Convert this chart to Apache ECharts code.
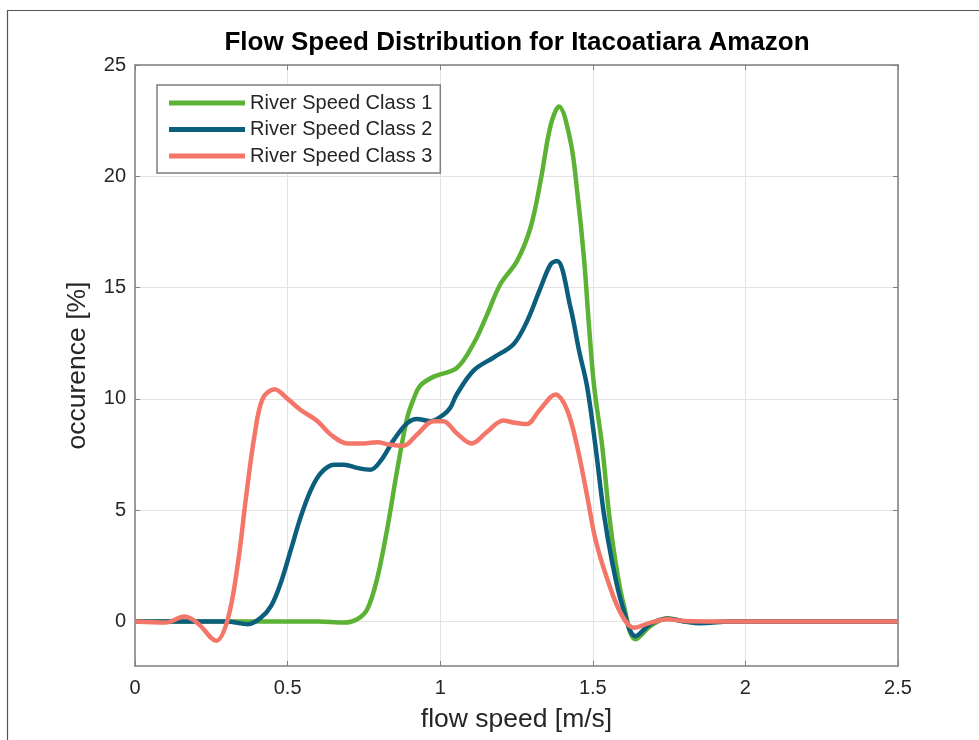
<!DOCTYPE html>
<html>
<head>
<meta charset="utf-8">
<script src="https://cdn.jsdelivr.net/npm/echarts@6/dist/echarts.min.js"></script>
<style>
html,body{margin:0;padding:0;background:#fff;}
#chart{width:979px;height:740px;}
</style>
</head>
<body>
<div id="chart"></div>
<script>
// ---- data ----
const seriesNames = ['River Speed Class 1', 'River Speed Class 2', 'River Speed Class 3'];

const class1X = [0, 0.3, 0.6, 0.685, 0.728, 0.761, 0.793, 0.826, 0.859, 0.891, 0.913, 0.935, 0.979, 1.055, 1.11, 1.154, 1.197, 1.252, 1.296, 1.329, 1.362, 1.389, 1.427, 1.449, 1.471, 1.487, 1.504, 1.531, 1.553, 1.575, 1.602, 1.64, 1.69, 1.745, 1.8, 1.85, 1.95, 2.5];
const class1Y = [0, 0, 0, -0.05, 0.1, 0.55, 1.9, 4.13, 6.8, 9.1, 10.0, 10.6, 11.0, 11.4, 12.5, 13.8, 15.15, 16.2, 17.7, 19.8, 22.3, 23.13, 21.57, 19.3, 16.34, 13.38, 10.6, 7.85, 4.87, 2.63, 0.7, -0.8, -0.2, 0.15, 0.0, -0.05, 0, 0];

const class2X = [0, 0.3, 0.37, 0.413, 0.446, 0.478, 0.511, 0.543, 0.576, 0.609, 0.652, 0.685, 0.728, 0.772, 0.804, 0.848, 0.891, 0.924, 0.967, 1.01, 1.033, 1.054, 1.11, 1.176, 1.241, 1.285, 1.329, 1.362, 1.383, 1.427, 1.455, 1.482, 1.509, 1.536, 1.564, 1.597, 1.64, 1.69, 1.745, 1.8, 1.85, 1.95, 2.5];
const class2Y = [0, 0, -0.12, 0.18, 0.7, 1.75, 3.24, 4.7, 5.9, 6.67, 7.04, 7.04, 6.9, 6.82, 7.2, 8.16, 8.9, 9.1, 9.0, 9.28, 9.6, 10.2, 11.28, 11.87, 12.47, 13.5, 15.0, 16.05, 16.2, 14.1, 12.17, 10.5, 7.85, 4.87, 2.63, 0.7, -0.66, -0.1, 0.12, 0.0, -0.08, 0, 0];

const class3X = [0, 0.1, 0.163, 0.207, 0.266, 0.304, 0.337, 0.364, 0.391, 0.418, 0.457, 0.5, 0.543, 0.598, 0.641, 0.696, 0.75, 0.793, 0.837, 0.88, 0.924, 0.978, 1.01, 1.054, 1.103, 1.152, 1.207, 1.239, 1.283, 1.326, 1.378, 1.416, 1.449, 1.482, 1.509, 1.548, 1.591, 1.635, 1.69, 1.745, 1.8, 1.9, 2.5];
const class3Y = [0, -0.05, 0.22, -0.1, -0.87, 0.1, 2.6, 5.6, 8.3, 10.0, 10.43, 10.0, 9.5, 9.0, 8.4, 8.0, 8.0, 8.05, 7.94, 7.9, 8.4, 9.0, 9.0, 8.46, 8.0, 8.5, 9.03, 8.94, 8.87, 9.5, 10.2, 9.5, 7.85, 5.6, 3.67, 1.88, 0.39, -0.28, -0.05, 0.1, 0.02, 0, 0];

const xTicks = [0, 0.5, 1, 1.5, 2, 2.5];
const yTicks = [0, 5, 10, 15, 20, 25];

const colors = ['#5BB234', '#0C5E7D', '#F47669'];

function pairs(xs, ys) { return xs.map((x, i) => [x, ys[i]]); }
const allX = [class1X, class2X, class3X];
const allY = [class1Y, class2Y, class3Y];

const chart = echarts.init(document.getElementById('chart'), null, {renderer: 'canvas'});
const axisColor = '#7f7f7f';
const gridColor = '#e3e3e3';
const labelColor = '#262626';
const fontFam = '"Liberation Sans", Arial, Helvetica, sans-serif';

const option = {
  backgroundColor: '#ffffff',
  animation: false,
  title: {
    text: 'Flow Speed Distribution for Itacoatiara Amazon',
    left: 512, top: 25, textAlign: 'center',
    textStyle: {fontFamily: fontFam, fontSize: 26, fontWeight: 'bold', color: '#000'}
  },
  graphic: [{
    type: 'rect', silent: true, z: 100,
    shape: {x: 7.5, y: 10.5, width: 1000, height: 800},
    style: {fill: 'none', stroke: '#555', lineWidth: 1.2}
  }],
  legend: {
    left: 157, top: 85, orient: 'vertical',
    data: seriesNames,
    icon: 'rect', itemWidth: 76, itemHeight: 5, itemGap: 6.5,
    padding: [8, 8, 7, 12],
    backgroundColor: '#fff',
    borderColor: axisColor, borderWidth: 1.5,
    textStyle: {fontFamily: fontFam, fontSize: 20, lineHeight: 20, color: labelColor}
  },
  grid: {left: 135, top: 65, right: 81, bottom: 74, containLabel: false},
  xAxis: [{
    type: 'value', min: 0, max: 2.5, interval: 0.5,
    name: 'flow speed [m/s]', nameLocation: 'middle', nameGap: 40,
    nameTextStyle: {fontFamily: fontFam, fontSize: 26.5, color: labelColor},
    axisLine: {show: true, onZero: false, lineStyle: {color: axisColor, width: 1.5}},
    axisTick: {show: true, inside: true, length: 5, lineStyle: {color: axisColor}},
    axisLabel: {fontFamily: fontFam, fontSize: 20, color: labelColor, margin: 12,
      customValues: xTicks, formatter: v => String(v)},
    splitLine: {show: true, lineStyle: {color: gridColor, width: 1}}
  }, {
    type: 'value', min: 0, max: 2.5, interval: 0.5, position: 'top',
    axisLine: {show: true, onZero: false, lineStyle: {color: axisColor, width: 1.5}},
    axisTick: {show: true, inside: true, length: 5, lineStyle: {color: axisColor}},
    axisLabel: {show: false}, splitLine: {show: false}
  }],
  yAxis: [{
    type: 'value', min: -2, max: 25,
    name: 'occurence [%]', nameLocation: 'middle', nameGap: 44,
    nameTextStyle: {fontFamily: fontFam, fontSize: 26.5, color: labelColor},
    axisLine: {show: true, onZero: false, lineStyle: {color: axisColor, width: 1.5}},
    axisTick: {show: true, inside: true, length: 5, lineStyle: {color: axisColor}, customValues: yTicks},
    axisLabel: {fontFamily: fontFam, fontSize: 20, color: labelColor, margin: 9, customValues: yTicks},
    splitLine: {show: true, lineStyle: {color: gridColor, width: 1}}
  }, {
    type: 'value', min: -2, max: 25, position: 'right',
    axisLine: {show: true, onZero: false, lineStyle: {color: axisColor, width: 1.5}},
    axisTick: {show: true, inside: true, length: 5, lineStyle: {color: axisColor}, customValues: yTicks},
    axisLabel: {show: false, customValues: yTicks}, splitLine: {show: false}
  }],
  series: seriesNames.map((name, i) => ({
    name: name, type: 'line', xAxisIndex: 0, yAxisIndex: 0,
    data: pairs(allX[i], allY[i]),
    showSymbol: false, symbol: 'none',
    smooth: 0.35,
    lineStyle: {color: colors[i], width: 4.5},
    itemStyle: {color: colors[i]},
    z: 2 + i
  }))
};
chart.setOption(option);
</script>
</body>
</html>
